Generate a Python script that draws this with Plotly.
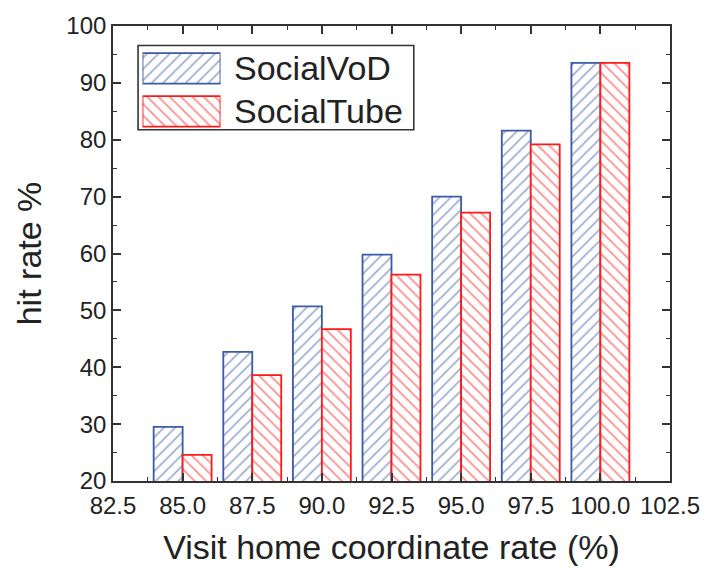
import plotly.graph_objects as go

# Visit home coordinate rate (%) and hit rates for each scheme
coord_rate = [85.0, 87.5, 90.0, 92.5, 95.0, 97.5, 100.0]
social_vod = [29.5, 42.7, 50.7, 59.8, 70.0, 81.6, 93.5]
social_tube = [24.6, 38.6, 46.7, 56.3, 67.2, 79.2, 93.5]

series_names = ["SocialVoD", "SocialTube"]
series_colors = ["#3B5BA5", "#FF1A1A"]
series_shapes = ["/", "\\"]

FONT = "Liberation Sans, Arial, sans-serif"
AXIS_COLOR = "#333333"
TEXT_COLOR = "#222"

fig = go.Figure()

for name, vals, col, shp in zip(series_names, [social_vod, social_tube],
                                series_colors, series_shapes):
    fig.add_trace(go.Bar(
        x=coord_rate, y=vals, name=name, showlegend=False,
        marker=dict(color="white",
                    line=dict(color=col, width=1.8),
                    pattern=dict(shape=shp, fgcolor=col, bgcolor="white",
                                 size=8, solidity=0.22, fillmode="overlay")),
    ))

# Legend swatches drawn as bars on a small hidden axis pair
fig.add_trace(go.Bar(
    x=[1, 1], y=[1, 0], orientation="h", width=0.71, showlegend=False,
    xaxis="x2", yaxis="y2", hoverinfo="skip",
    marker=dict(color="white",
                line=dict(color=series_colors, width=1.8),
                pattern=dict(shape=series_shapes, fgcolor=series_colors,
                             bgcolor="white", size=8, solidity=0.22,
                             fillmode="overlay")),
))

axis_common = dict(
    showline=True, linecolor=AXIS_COLOR, linewidth=1.6, mirror="allticks",
    ticks="inside", ticklen=8, tickwidth=1.6, tickcolor=AXIS_COLOR,
    showgrid=False, zeroline=False,
    tickfont=dict(family=FONT, size=24, color=TEXT_COLOR),
)

fig.update_layout(
    width=718, height=572,
    margin=dict(l=113, r=48, t=20, b=91),
    plot_bgcolor="white", paper_bgcolor="white",
    barmode="group", bargap=0.168, bargroupgap=0,
    xaxis=dict(
        range=[82.5, 102.5], tickmode="linear", tick0=82.5, dtick=2.5,
        tickformat=".1f", ticklabelstandoff=2,
        minor=dict(dtick=1.25, tick0=82.5, ticks="inside", ticklen=4,
                   tickwidth=1.4, tickcolor=AXIS_COLOR),
        title=dict(text="Visit home coordinate rate (%)",
                   font=dict(family=FONT, size=34, color=TEXT_COLOR), standoff=18),
        **axis_common,
    ),
    yaxis=dict(
        range=[20, 100], tickmode="linear", tick0=20, dtick=10,
        minor=dict(dtick=5, tick0=20, ticks="inside", ticklen=4,
                   tickwidth=1.4, tickcolor=AXIS_COLOR),
        title=dict(text="hit rate %",
                   font=dict(family=FONT, size=34, color=TEXT_COLOR), standoff=14),
        **axis_common,
    ),
    xaxis2=dict(domain=[0.053, 0.193], range=[0, 1], visible=False,
                fixedrange=True, anchor="y2"),
    yaxis2=dict(domain=[0.765, 0.954], range=[-0.5, 1.5], visible=False,
                fixedrange=True, anchor="x2"),
    shapes=[dict(type="rect", xref="paper", yref="paper",
                 x0=0.045, x1=0.54, y0=0.772, y1=0.957,
                 line=dict(color=AXIS_COLOR, width=1.6), fillcolor="rgba(0,0,0,0)")],
    annotations=[
        dict(text=n, xref="paper", yref="y2", x=0.213, y=yv, xanchor="left",
             yanchor="middle", showarrow=False,
             font=dict(family=FONT, size=34, color=TEXT_COLOR))
        for n, yv in zip(series_names, [1, 0])
    ],
)

fig.write_html("out.html")
